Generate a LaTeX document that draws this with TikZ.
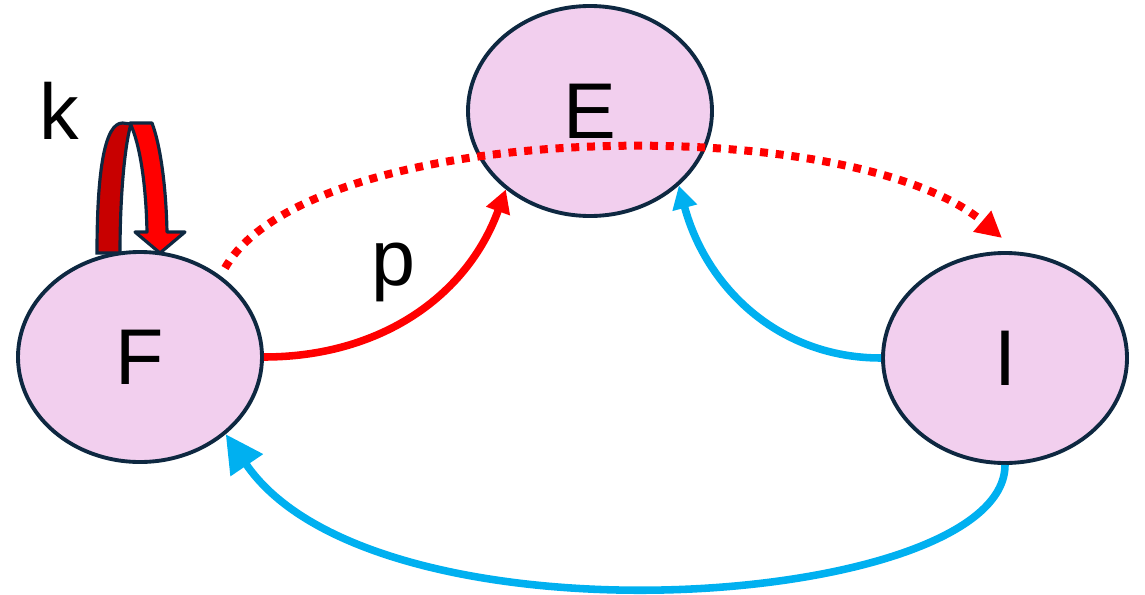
\documentclass[tikz,border=0pt]{standalone}
\usepackage{fontspec}
\setmainfont{Liberation Sans}
\usepackage{xcolor}
\usetikzlibrary{arrows.meta, shapes.geometric}
\definecolor{etatfond}{HTML}{F2CFEE}
\definecolor{etatbord}{HTML}{0E2841}
\definecolor{bleuflux}{HTML}{00B0F0}
\definecolor{rougefonce}{HTML}{C80000}

\begin{document}
\begin{tikzpicture}[>=Stealth,
    etat/.style={ellipse, draw=etatbord, fill=etatfond, line width=2.2pt,
                 minimum width=4.88cm, minimum height=4.2cm, inner sep=0pt,
                 font=\fontsize{45}{50}\selectfont, text depth=0pt},
    lettre/.style={font=\fontsize{45}{50}\selectfont},
    flux/.style={line width=4.3pt}]
  \useasboundingbox (0,0) rectangle (22.9,11.88);

  % Etats
  \node[etat] (F) at (2.80, 4.74) {F};
  \node[etat] (E) at (11.80, 9.66) {E};
  \node[etat] (I) at (20.10, 4.72) {I};

  % Etiquettes
  \node[lettre] (k) at (1.19, 9.67) {k};
  \node[lettre] (p) at (7.86, 6.43) {p};

  % Flux F -> E
  \draw[flux, red, -{Triangle[length=0.46cm, width=0.48cm]}]
      (F.east) to[out=0, in=-110] (E.223);

  % Flux I -> E
  \draw[flux, bleuflux, -{Triangle[length=0.46cm, width=0.48cm]}]
      (I.west) to[out=180, in=-75] (E.-40);

  % Flux I -> F
  \draw[flux, bleuflux, -{Triangle[length=0.75cm, width=0.75cm]}]
      (I.south) .. controls (20.10, -0.30) and (7.50, -1.20) .. (F.-42);

  % Flux F -> I (pointillés)
  \coordinate (dF) at (4.50, 6.52);
  \coordinate (dI) at (20.04, 7.12);
  \draw[red, line width=0.16cm, dash pattern=on 0.16cm off 0.155cm,
        -{Triangle[length=0.52cm, width=0.52cm]}]
      (dF) .. controls (6.20, 9.50) and (17.00, 9.70) .. (dI);

  % Boucle k sur F
  \fill[rougefonce, draw=etatbord, line width=1.8pt]
      (1.94, 6.82) .. controls (1.94, 8.50) and (2.10, 9.42) .. (2.45, 9.42)
      -- (2.62, 9.40) .. controls (2.50, 9.00) and (2.40, 8.00) .. (2.40, 6.82) -- cycle;
  \fill[red, draw=etatbord, line width=1.8pt, line join=round]
      (2.60, 9.42) -- (3.04, 9.42) .. controls (3.20, 9.00) and (3.32, 8.20) .. (3.34, 7.24)
      -- (3.70, 7.24) -- (3.20, 6.82) -- (2.70, 7.24) -- (2.94, 7.24)
      .. controls (2.92, 8.20) and (2.80, 9.00) .. (2.60, 9.42) -- cycle;
\end{tikzpicture}
\end{document}
